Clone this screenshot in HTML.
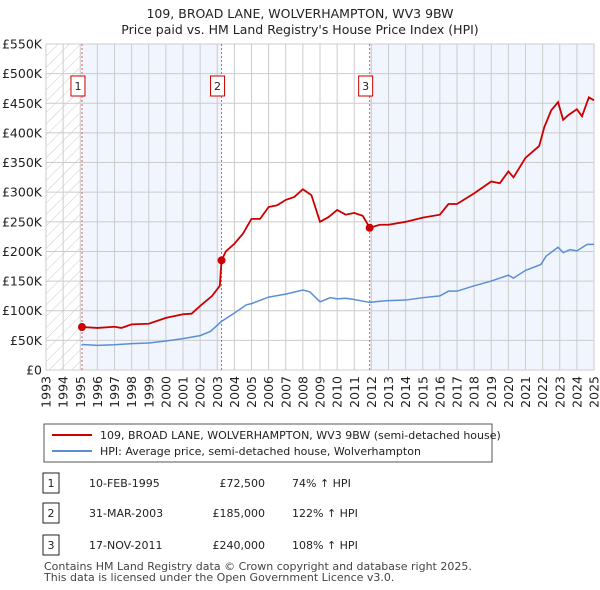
<!DOCTYPE html>
<html><head><meta charset="utf-8"><style>
body{margin:0;background:#fff;font-family:"Liberation Sans","DejaVu Sans",sans-serif;}
#wrap{position:relative;width:600px;height:590px;overflow:hidden}
svg text{font-family:"DejaVu Sans","Liberation Sans",sans-serif}
</style></head><body><div id="wrap">
<svg id="c" width="600" height="590"></svg>
</div>
<script>
const hpiYears=[1995.1,1996,1997,1998,1999,2000,2001,2002,2002.6,2003.25,2004,2004.7,2005,2006,2007,2008,2008.4,2009,2009.6,2010,2010.5,2011,2011.9,2012.5,2013,2014,2015,2016,2016.5,2017,2018,2019,2020,2020.3,2021,2021.9,2022.2,2022.9,2023.2,2023.6,2024,2024.6,2025];
const hpiValues=[43000,41500,42500,44500,45500,49000,53000,58000,65000,82000,96000,110000,112000,123000,128000,135000,132000,115000,122000,120000,121000,119000,114000,116000,117000,118000,122000,125000,133000,133000,142000,150000,160000,155000,168000,178000,192000,207000,198000,203000,201000,212000,212000];
const redYears=[1995.1,1996,1997,1997.4,1998,1999,2000,2001,2001.5,2002,2002.7,2003.15,2003.25,2003.5,2004,2004.5,2005,2005.5,2006,2006.5,2007,2007.5,2008,2008.5,2009,2009.5,2010,2010.5,2011,2011.5,2011.9,2012.5,2013,2014,2015,2016,2016.5,2017,2018,2019,2019.5,2020,2020.3,2021,2021.8,2022.1,2022.5,2022.9,2023.2,2023.5,2024,2024.3,2024.7,2025];
const redValues=[72500,71000,73000,71000,77000,78000,88000,94000,95000,108000,125000,142000,185000,200000,213000,230000,255000,255000,275000,278000,287000,292000,305000,295000,250000,258000,270000,262000,265000,260000,240000,245000,245000,250000,257000,262000,280000,280000,298000,318000,315000,335000,325000,358000,378000,410000,438000,452000,422000,430000,440000,428000,460000,455000];
const sales=[{n:"1",y:1995.1,v:72500},{n:"2",y:2003.25,v:185000},{n:"3",y:2011.9,v:240000}];
const yTicks=[0,50000,100000,150000,200000,250000,300000,350000,400000,450000,500000,550000];
const yLabels=["£0","£50K","£100K","£150K","£200K","£250K","£300K","£350K","£400K","£450K","£500K","£550K"];
const xTicks=[1993,1994,1995,1996,1997,1998,1999,2000,2001,2002,2003,2004,2005,2006,2007,2008,2009,2010,2011,2012,2013,2014,2015,2016,2017,2018,2019,2020,2021,2022,2023,2024,2025];

const X0=46,X1=594,Y0=370,Y1=44;
const sx=y=>X0+(y-1993)/(2025-1993)*(X1-X0);
const sy=v=>Y0-v/550000*(Y0-Y1);
const NS="http://www.w3.org/2000/svg";
const svg=document.getElementById('c');
function mk(t,a,p){const e=document.createElementNS(NS,t);for(const k in a)e.setAttribute(k,a[k]);(p||svg).appendChild(e);return e;}

const defs=mk('defs',{});
const pat=mk('pattern',{id:'hatch',width:8,height:8,patternUnits:'userSpaceOnUse',patternTransform:'rotate(45)'},defs);
mk('line',{x1:0,y1:0,x2:0,y2:8,stroke:'#ccc','stroke-width':1},pat);

let t=mk('text',{x:300,y:18,'text-anchor':'middle','font-size':12.5,fill:'#222'});t.textContent="109, BROAD LANE, WOLVERHAMPTON, WV3 9BW";


t=mk('text',{x:300,y:34,'text-anchor':'middle','font-size':12.5,fill:'#222'});t.textContent="Price paid vs. HM Land Registry's House Price Index (HPI)";



let r=mk('rect',{x:X0,y:Y1,width:sx(1995.1)-X0,height:Y0-Y1,fill:'url(#hatch)'});


r=mk('rect',{x:sx(1995.1),y:Y1,width:sx(2003.25)-sx(1995.1),height:Y0-Y1,fill:'#eef3fc',opacity:0.8});


r=mk('rect',{x:sx(2011.9),y:Y1,width:X1-sx(2011.9),height:Y0-Y1,fill:'#eef3fc',opacity:0.8});



yTicks.forEach((v,i)=>{
 const l=mk('line',{x1:X0,x2:X1,y1:sy(v),y2:sy(v),stroke:'#ccc','stroke-width':1});
 
 
 const tx=mk('text',{x:X0-4,y:sy(v)+4.5,'text-anchor':'end','font-size':12.5,fill:'#222'});tx.textContent=yLabels[i];
 
 
});
xTicks.forEach(y=>{
 const l=mk('line',{x1:sx(y),x2:sx(y),y1:Y1,y2:Y0,stroke:'#ccc','stroke-width':1});
 
 
 const tx=mk('text',{x:sx(y)+4.5,y:Y0+6,'text-anchor':'end','font-size':12.5,fill:'#222',transform:`rotate(-90 ${sx(y)+4.5} ${Y0+6})`});tx.textContent=y;
 
 
});
r=mk('rect',{x:X0,y:Y1,width:X1-X0,height:Y0-Y1,fill:'none',stroke:'#ccc'});



sales.forEach(s=>{
 const l=mk('line',{x1:sx(s.y),x2:sx(s.y),y1:Y1,y2:Y0,stroke:'#e55','stroke-width':1,'stroke-dasharray':'2,2'});
 
 
 const g=mk('g',{});
 
 
 mk('rect',{x:sx(s.y)-11,y:76,width:14,height:20,fill:'#fff',stroke:'#c00'},g);
 const tx=mk('text',{x:sx(s.y)-4,y:90,'text-anchor':'middle','font-size':11,fill:'#222'},g);tx.textContent=s.n;
});

let p=mk('polyline',{points:hpiYears.map((y,i)=>sx(y)+','+sy(hpiValues[i])).join(' '),fill:'none',stroke:'#5b8fd4','stroke-width':1.5});


p=mk('polyline',{points:redYears.map((y,i)=>sx(y)+','+sy(redValues[i])).join(' '),fill:'none',stroke:'#cc0000','stroke-width':1.8});


sales.forEach(s=>{
 const c=mk('circle',{cx:sx(s.y),cy:sy(s.v),r:4,fill:'#cc0000'});
 
 
});

const lg=mk('g',{});


mk('rect',{x:44,y:424,width:448,height:38,fill:'#fff',stroke:'#555'},lg);
mk('line',{x1:52,x2:92,y1:435,y2:435,stroke:'#cc0000','stroke-width':2},lg);
t=mk('text',{x:100,y:439,'font-size':11,fill:'#222'},lg);t.textContent="109, BROAD LANE, WOLVERHAMPTON, WV3 9BW (semi-detached house)";
mk('line',{x1:52,x2:92,y1:451,y2:451,stroke:'#5b8fd4','stroke-width':2},lg);
t=mk('text',{x:100,y:455,'font-size':11,fill:'#222'},lg);t.textContent="HPI: Average price, semi-detached house, Wolverhampton";

const rows=[["1","10-FEB-1995","£72,500","74% ↑ HPI",483],["2","31-MAR-2003","£185,000","122% ↑ HPI",513],["3","17-NOV-2011","£240,000","108% ↑ HPI",545]];
rows.forEach(rw=>{
 const g=mk('g',{});
 
 
 mk('rect',{x:43,y:rw[4]-10,width:16,height:20,fill:'#fff',stroke:'#222'},g);
 let a=mk('text',{x:51,y:rw[4]+4,'text-anchor':'middle','font-size':11,fill:'#222'},g);a.textContent=rw[0];
 a=mk('text',{x:89,y:rw[4]+4,'font-size':11,fill:'#222'},g);a.textContent=rw[1];
 a=mk('text',{x:265,y:rw[4]+4,'text-anchor':'end','font-size':11,fill:'#222'},g);a.textContent=rw[2];
 a=mk('text',{x:292,y:rw[4]+4,'font-size':11,fill:'#222'},g);a.textContent=rw[3];
});
t=mk('text',{x:44,y:570,'font-size':11,fill:'#444'});t.textContent="Contains HM Land Registry data © Crown copyright and database right 2025.";


t=mk('text',{x:44,y:581,'font-size':11,fill:'#444'});t.textContent="This data is licensed under the Open Government Licence v3.0.";


</script></body></html>
